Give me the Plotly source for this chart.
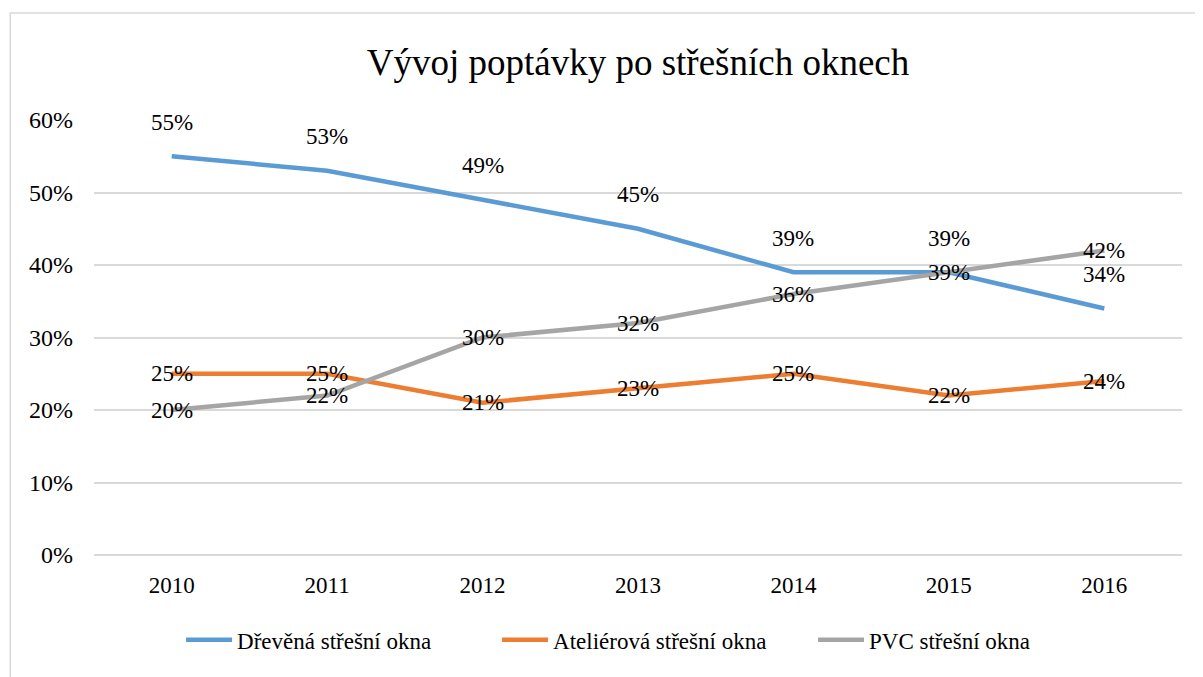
import plotly.graph_objects as go

years = ["2010", "2011", "2012", "2013", "2014", "2015", "2016"]
drevena = [55, 53, 49, 45, 39, 39, 34]
atelierova = [25, 25, 21, 23, 25, 22, 24]
pvc = [20, 22, 30, 32, 36, 39, 42]

names = ["Dřevěná střešní okna", "Ateliérová střešní okna", "PVC střešní okna"]
colors = ["#5B9BD5", "#ED7D31", "#A5A5A5"]
serif = "Liberation Serif"

fig = go.Figure()

# lines
for vals, name, col in zip([drevena, atelierova, pvc], names, colors):
    fig.add_trace(go.Scatter(
        x=years, y=vals, name=name, mode="lines",
        line=dict(color=col, width=4.5),
        hoverinfo="skip",
    ))

# data labels: wooden ones sit above the line, the others centred on the point
for vals, shift in [(drevena, 34), (atelierova, 0), (pvc, 0)]:
    for i, v in enumerate(vals):
        fig.add_annotation(
            x=i, y=v, text=f"{v}%", showarrow=False, yshift=shift,
            font=dict(family=serif, size=23, color="black"),
        )

# outer border of the chart
fig.add_shape(type="rect", xref="paper", yref="paper",
              x0=-0.077, x1=1.05, y0=-0.3, y1=1.246,
              line=dict(color="#D9D9D9", width=1.5), layer="below")

fig.update_layout(
    width=1195, height=669,
    paper_bgcolor="white", plot_bgcolor="white",
    margin=dict(l=86, r=21, t=112, b=122, autoexpand=False),
    font=dict(family=serif, size=23, color="black"),
    title=dict(text="Vývoj poptávky po střešních oknech",
               x=0.5, xanchor="center", xref="paper",
               y=0.919, yanchor="middle",
               font=dict(family=serif, size=37, color="black")),
    xaxis=dict(type="category", showgrid=False, showline=False,
               ticks="", range=[-0.5, 6.5], ticklabelstandoff=14,
               tickfont=dict(family=serif, size=23, color="black")),
    yaxis=dict(range=[0, 60], dtick=10, ticksuffix="%", showgrid=True,
               gridcolor="#D9D9D9", gridwidth=1.5, zeroline=True,
               zerolinecolor="#D9D9D9", zerolinewidth=1.5,
               ticks="", ticklabelstandoff=20,
               tickfont=dict(family=serif, size=24, color="black")),
    legend=dict(orientation="h", x=0.08, xanchor="left", y=-0.195,
                yanchor="middle", font=dict(family=serif, size=23, color="black"),
                itemwidth=46, entrywidth=255, entrywidthmode="pixels"),
    showlegend=True,
)

fig.write_html("out.html")
